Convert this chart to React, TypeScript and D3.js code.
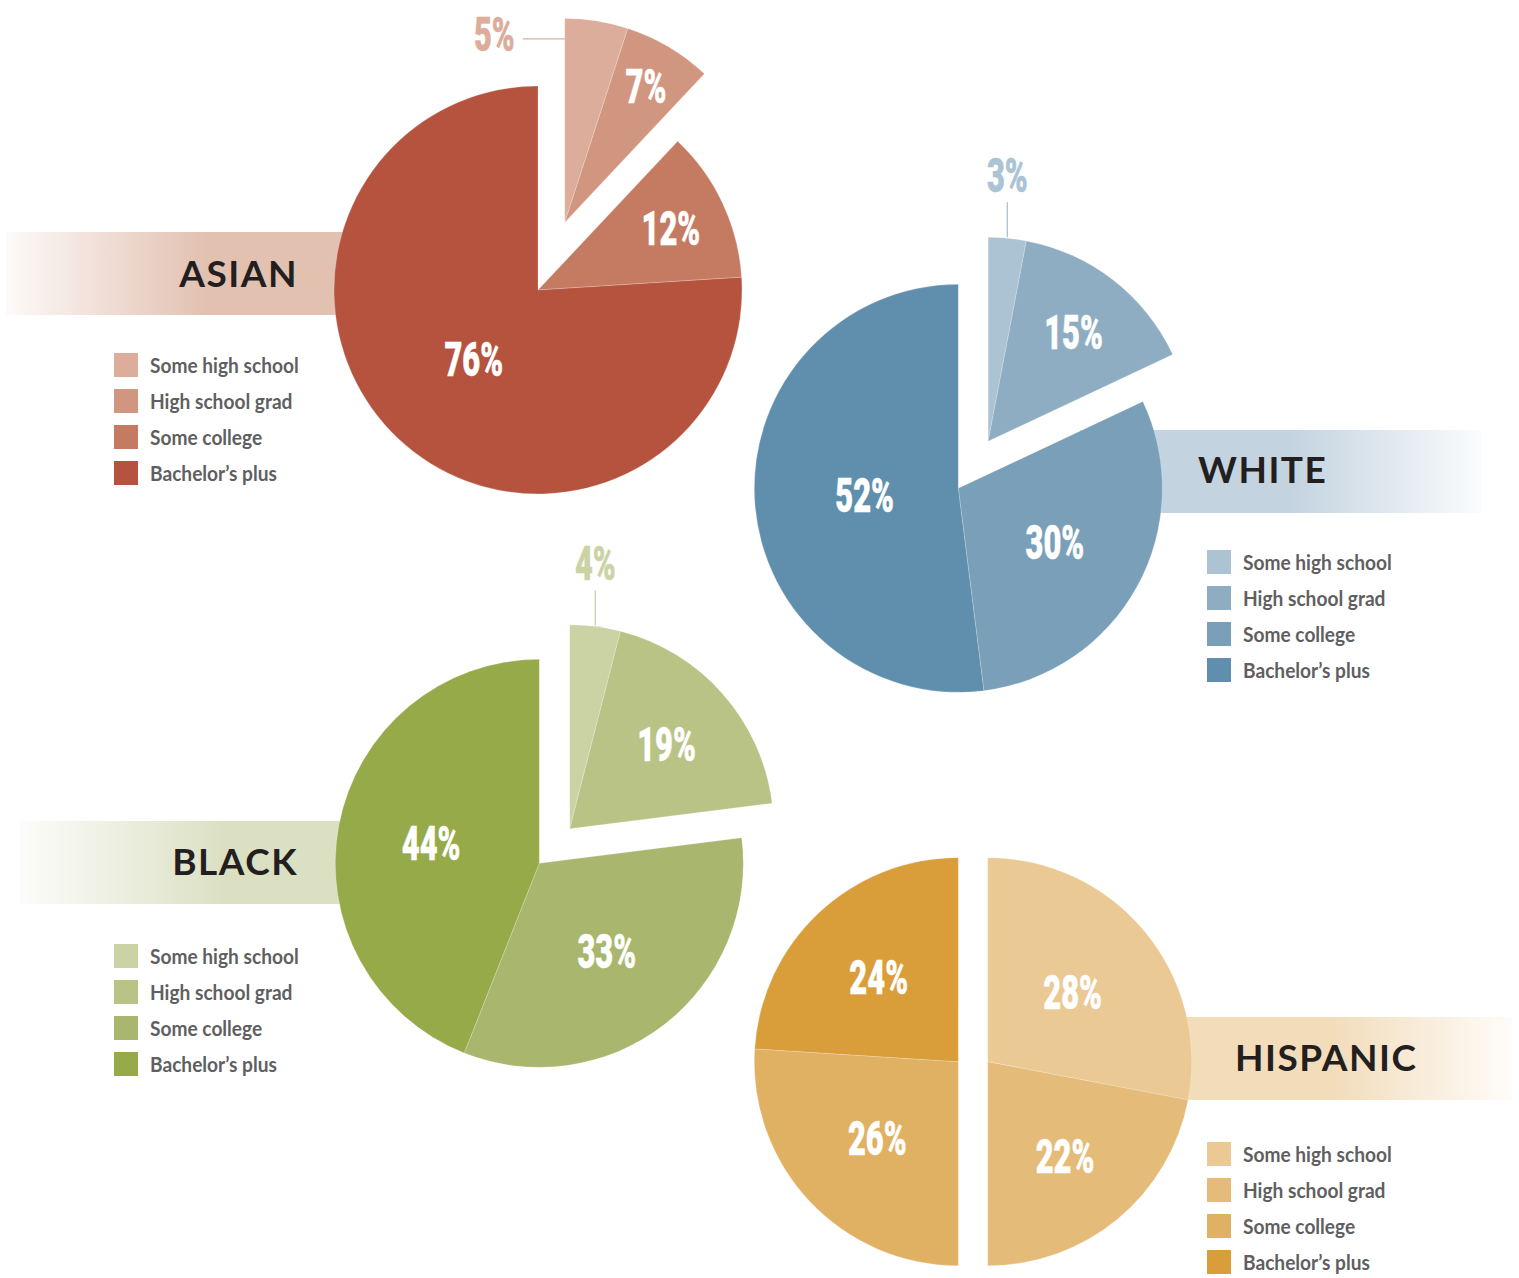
import React from 'react';
import * as d3 from 'd3';

// ---------- data ----------
const categories = ['Some high school', 'High school grad', 'Some college', 'Bachelor\u2019s plus'];
const groupNames = ['ASIAN', 'WHITE', 'BLACK', 'HISPANIC'];
const asianValues = [5, 7, 12, 76];
const whiteValues = [3, 15, 30, 52];
const blackValues = [4, 19, 33, 44];
const hispanicValues = [28, 22, 26, 24];

// ---------- styles ----------
const asianColors = ['#dbad9a', '#d19680', '#c57b62', '#b5533e'];
const whiteColors = ['#abc3d3', '#8fadc2', '#7a9fb8', '#608fad'];
const blackColors = ['#cbd3a5', '#b9c386', '#a9b66d', '#97aa4a'];
const hispanicColors = ['#eac995', '#e5bb79', '#e0b063', '#d99d3a'];

const R = 204;
const NUM_FONT = 'Roboto, "Liberation Sans", sans-serif';
const TITLE_FONT = 'Lato, "Open Sans", sans-serif';

type Layout = {
  name: string;
  values: number[];
  colors: string[];
  band: string;
  cx: number;
  cy: number;
  groupsOf: (number | null)[];
  dist: number;
  callout: 'left' | 'top' | null;
  bandX: number;
  bandW: number;
  bandY: number;
  fadeFrom: number;
  fadeTo: number;
  titleAnchor: 'start' | 'end';
  titleX: number;
  titleY: number;
  legendX: number;
  legendY: number;
};

const layouts: Layout[] = [
  {
    name: groupNames[0], values: asianValues, colors: asianColors, band: '#e2c1b1',
    cx: 538, cy: 290, groupsOf: [0, 0, null, null], dist: 72.7, callout: 'left',
    bandX: 6, bandW: 400, bandY: 232, fadeFrom: 6, fadeTo: 205,
    titleAnchor: 'end', titleX: 298, titleY: 287, legendX: 114, legendY: 353,
  },
  {
    name: groupNames[1], values: whiteValues, colors: whiteColors, band: '#c3d3e0',
    cx: 958.3, cy: 488.3, groupsOf: [0, 0, null, null], dist: 55.7, callout: 'top',
    bandX: 1080, bandW: 401, bandY: 430, fadeFrom: 1480, fadeTo: 1290,
    titleAnchor: 'start', titleX: 1198, titleY: 483, legendX: 1207, legendY: 550,
  },
  {
    name: groupNames[2], values: blackValues, colors: blackColors, band: '#dbe0c3',
    cx: 539.3, cy: 863.3, groupsOf: [0, 0, null, null], dist: 46, callout: 'top',
    bandX: 20, bandW: 400, bandY: 821, fadeFrom: 20, fadeTo: 225,
    titleAnchor: 'end', titleX: 298, titleY: 875, legendX: 114, legendY: 944,
  },
  {
    name: groupNames[3], values: hispanicValues, colors: hispanicColors, band: '#f2dcba',
    cx: 973, cy: 1061.7, groupsOf: [0, 0, 1, 1], dist: 14.7, callout: null,
    bandX: 1100, bandW: 412, bandY: 1017, fadeFrom: 1512, fadeTo: 1330,
    titleAnchor: 'start', titleX: 1235, titleY: 1071, legendX: 1207, legendY: 1142,
  },
];

const NumLabel = ({ x, y, text, fill, anchor = 'middle' }: { x: number; y: number; text: string; fill: string; anchor?: string }) => (
  <text
    transform={`translate(${x},${y}) scale(0.63,1)`}
    textAnchor={anchor}
    fontFamily={NUM_FONT}
    fontWeight={900}
    fontSize={49}
    fill={fill}
    stroke={fill}
    strokeWidth={0.5}
  >
    {text}
  </text>
);

const Pie = ({ L }: { L: Layout }) => {
  const total = d3.sum(L.values);
  const arcs = d3.pie<number>().sort(null).value((d) => d)(L.values);
  const arcGen = d3.arc<d3.PieArcDatum<number>>().innerRadius(0).outerRadius(R);

  // offset for each exploded group along its mid angle
  const offsets = arcs.map((a, i) => {
    const g = L.groupsOf[i];
    if (g === null) return [0, 0];
    const members = arcs.filter((_, j) => L.groupsOf[j] === g);
    const mid = (d3.min(members, (m) => m.startAngle)! + d3.max(members, (m) => m.endAngle)!) / 2;
    return [L.dist * Math.sin(mid), -L.dist * Math.cos(mid)];
  });

  const capHalf = 17.5;
  return (
    <g>
      {arcs.map((a, i) => (
        <path
          key={'s' + i}
          d={arcGen(a) || ''}
          transform={`translate(${L.cx + offsets[i][0]},${L.cy + offsets[i][1]})`}
          fill={L.colors[i]}
          stroke="#ffffff"
          strokeOpacity={0.35}
          strokeWidth={0.6}
        />
      ))}
      {arcs.map((a, i) => {
        const p = a.value / total;
        const ox = L.cx + offsets[i][0];
        const oy = L.cy + offsets[i][1];
        const mid = (a.startAngle + a.endAngle) / 2;
        const text = `${a.value}%`;
        if (i === 0 && L.callout) {
          if (L.callout === 'top') {
            const x = ox + R * Math.sin(mid);
            const yArc = oy - R * Math.cos(mid);
            return (
              <g key={'l' + i}>
                <line x1={x} x2={x} y1={yArc - 1} y2={yArc - 36} stroke={L.colors[0]} strokeWidth={1.3} />
                <NumLabel x={x} y={yArc - 46} text={text} fill={L.colors[0]} />
              </g>
            );
          }
          const y = oy - 0.9 * R;
          return (
            <g key={'l' + i}>
              <line x1={ox - 42} x2={ox} y1={y} y2={y} stroke={L.colors[0]} strokeWidth={1.3} />
              <NumLabel x={ox - 50} y={y + capHalf - 5} text={text} fill={L.colors[0]} anchor="end" />
            </g>
          );
        }
        const k = p > 0.5 ? 0.46 : Math.min(0.8, Math.max(0.54, 0.87 - 1.25 * p));
        const rr = R * k;
        const x = ox + rr * Math.sin(mid);
        const y = oy - rr * Math.cos(mid);
        return <NumLabel key={'l' + i} x={x} y={y + capHalf} text={text} fill="#ffffff" />;
      })}
    </g>
  );
};

const Band = ({ L, idx }: { L: Layout; idx: number }) => {
  const id = `bandgrad${idx}`;
  return (
    <g>
      <defs>
        <linearGradient id={id} gradientUnits="userSpaceOnUse" x1={L.fadeFrom} x2={L.fadeTo} y1={0} y2={0}>
          <stop offset="0" stopColor={L.band} stopOpacity={0.08} />
          <stop offset="1" stopColor={L.band} stopOpacity={1} />
        </linearGradient>
      </defs>
      <rect x={L.bandX} y={L.bandY} width={L.bandW} height={83} fill={`url(#${id})`} />
    </g>
  );
};

const Legend = ({ L }: { L: Layout }) => (
  <g>
    {categories.map((c, i) => (
      <g key={c} transform={`translate(${L.legendX},${L.legendY + i * 36})`}>
        <rect x={0} y={0} width={24} height={24} fill={L.colors[i]} />
        <text
          transform="translate(36,20) scale(0.89,1)"
          fontFamily={TITLE_FONT}
          fontWeight={700}
          fontSize={21.5}
          fill="#5f5f61"
        >
          {c}
        </text>
      </g>
    ))}
  </g>
);

export default function App() {
  return (
    <svg
      width={1519}
      height={1278}
      viewBox="0 0 1519 1278"
      style={{ position: 'absolute', left: 0, top: 0, background: '#ffffff' }}
    >
      <rect x={0} y={0} width={1519} height={1278} fill="#ffffff" />
      {layouts.map((L, i) => (
        <Band key={'b' + i} L={L} idx={i} />
      ))}
      {layouts.map((L, i) => (
        <text
          key={'t' + i}
          x={L.titleX}
          y={L.titleY}
          textAnchor={L.titleAnchor}
          fontFamily={TITLE_FONT}
          fontWeight={700}
          fontSize={37}
          letterSpacing={1.5}
          fill="#231f20"
        >
          {L.name}
        </text>
      ))}
      {layouts.map((L, i) => (
        <Pie key={'p' + i} L={L} />
      ))}
      {layouts.map((L, i) => (
        <Legend key={'g' + i} L={L} />
      ))}
    </svg>
  );
}
